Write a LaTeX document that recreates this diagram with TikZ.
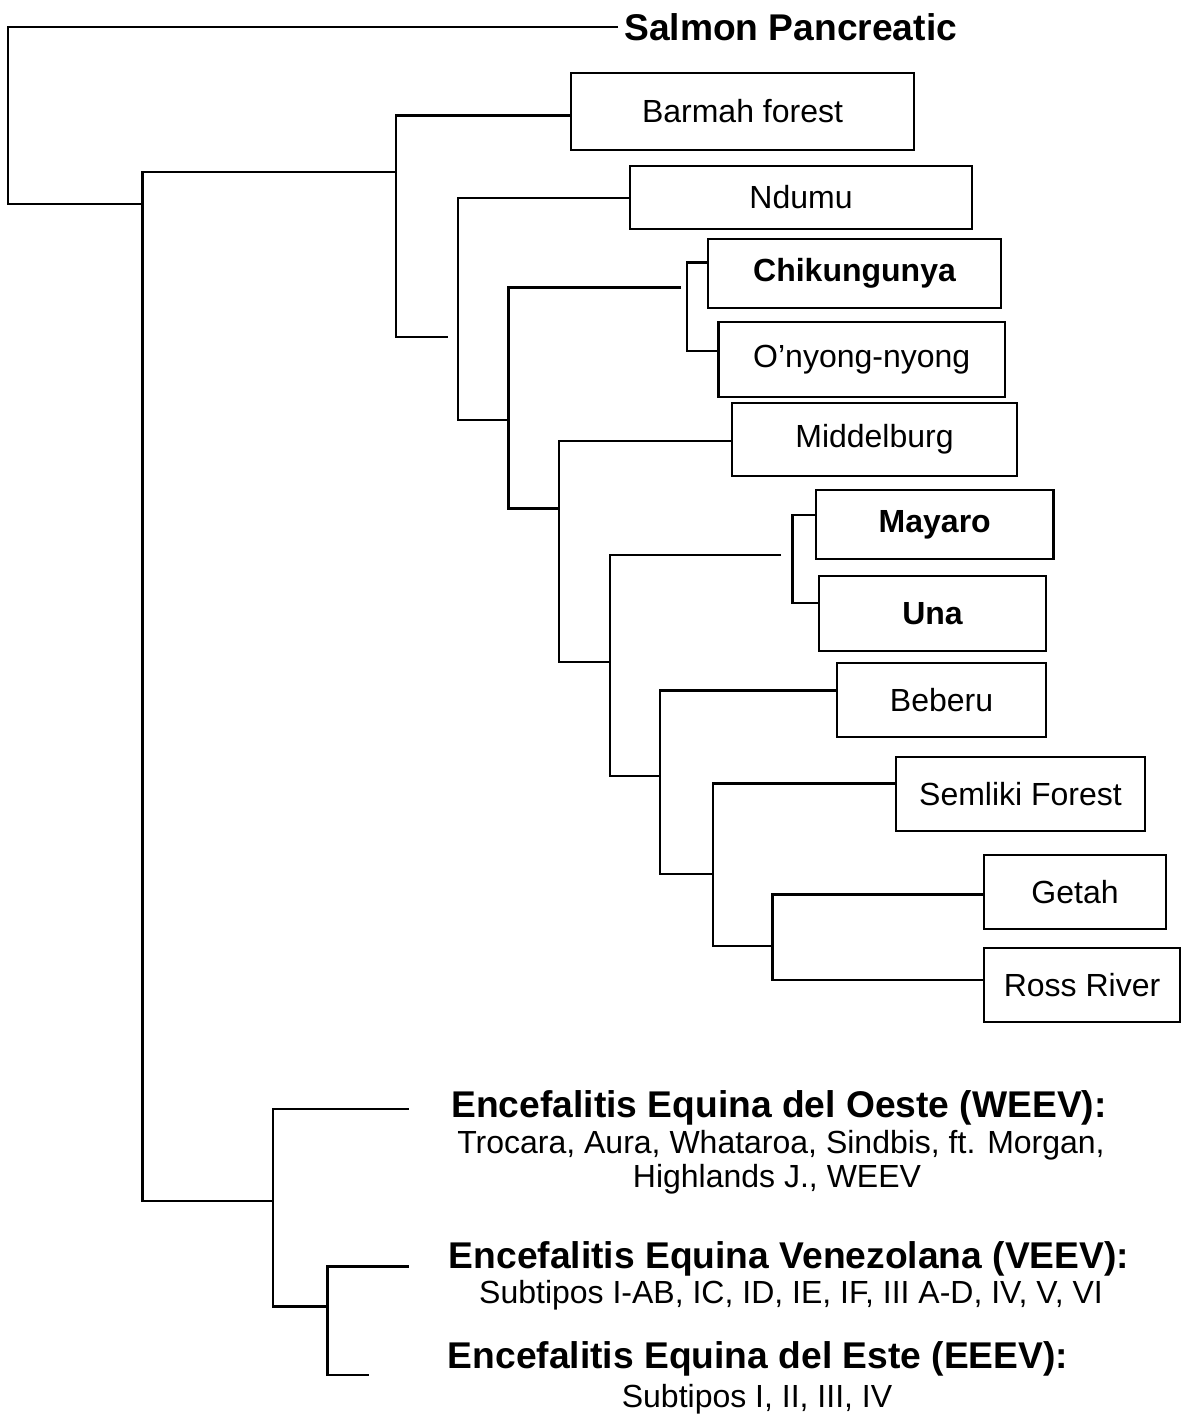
\documentclass[tikz,border=0pt]{standalone}
\usepackage{fontspec}
\setmainfont{Liberation Sans}
\def\lw{1.2pt}
\def\fs{\fontsize{16}{19}\selectfont}
\def\fb{\fontsize{18.6}{22}\selectfont\bfseries}
\begin{document}
\begin{tikzpicture}[x=0.5pt,y=-0.5pt,line width=\lw,
  leaf/.style={draw,inner sep=0pt,font=\fs},
  leafb/.style={leaf,font=\fs\bfseries},
  head/.style={anchor=base,inner sep=0pt,font=\fb},
  sub/.style={anchor=base,inner sep=0pt,font=\fs}]
\useasboundingbox (0,0) rectangle (1181,1422);

\node[anchor=west,inner sep=2.5pt,font=\fb] (title) at (618,27) {Salmon Pancreatic};

\node[leaf,minimum width=171.5pt,minimum height=38.5pt] (barmah) at (742.5,111.5) {Barmah forest};
\node[leaf,minimum width=171pt,minimum height=31.5pt] (ndumu) at (801,197.5) {Ndumu};
\node[leafb,minimum width=146.5pt,minimum height=34.5pt] (chik) at (854.5,273.5) {Chikungunya};
\node[leaf,minimum width=143.25pt,minimum height=37.5pt] (onyong) at (861.75,359.5) {O’nyong-nyong};
\node[leaf,minimum width=142.5pt,minimum height=36.5pt] (midd) at (874.5,439.5) {Middelburg};
\node[leafb,minimum width=118.75pt,minimum height=34.5pt] (mayaro) at (934.75,524.5) {Mayaro};
\node[leafb,minimum width=113.5pt,minimum height=37.5pt] (una) at (932.5,613.5) {Una};
\node[leaf,minimum width=104.5pt,minimum height=37pt] (beberu) at (941.5,700) {Beberu};
\node[leaf,minimum width=124.5pt,minimum height=37pt] (semliki) at (1020.5,794) {Semliki Forest};
\node[leaf,minimum width=91pt,minimum height=37pt] (getah) at (1075,892) {Getah};
\node[leaf,minimum width=98pt,minimum height=37pt] (ross) at (1082,985) {Ross River};

\node[head] (weev) at (779,1117) {Encefalitis Equina del Oeste (WEEV):};
\node[sub] (weev1) at (781,1153) {Trocara, Aura, Whataroa, Sindbis, ft. Morgan,};
\node[sub] (weev2) at (777,1187) {Highlands J., WEEV};
\node[head] (veev) at (789,1268) {Encefalitis Equina Venezolana (VEEV):};
\node[sub] (veev1) at (791,1303) {Subtipos I-AB, IC, ID, IE, IF, III A-D, IV, V, VI};
\node[head] (eeev) at (758,1368) {Encefalitis Equina del Este (EEEV):};
\node[sub] (eeev1) at (757,1407) {Subtipos I, II, III, IV};

\coordinate (R1) at (8,27);      \coordinate (R2) at (8,204);
\coordinate (A1) at (142.5,172); \coordinate (A2) at (142.5,1201);
\coordinate (B1) at (396,115.5); \coordinate (B2) at (396,337);   \coordinate (B3) at (448,337);
\coordinate (C1) at (458,198);   \coordinate (C2) at (458,420);
\coordinate (D1) at (508.5,287.5); \coordinate (D2) at (508.5,508.5); \coordinate (D3) at (681,287.5);
\coordinate (E1) at (687,262.5); \coordinate (E2) at (687,351);
\coordinate (F1) at (559,441);   \coordinate (F2) at (559,662);
\coordinate (G1) at (610,555);   \coordinate (G2) at (610,776);   \coordinate (G3) at (781,555);
\coordinate (H1) at (792.5,515); \coordinate (H2) at (792.5,603);
\coordinate (I1) at (660,690.5); \coordinate (I2) at (660,874);
\coordinate (J1) at (713,783.5); \coordinate (J2) at (713,946);
\coordinate (K1) at (772.5,894.5); \coordinate (K2) at (772.5,980);
\coordinate (L1) at (273,1109);  \coordinate (L2) at (273,1306.5); \coordinate (L3) at (408.5,1109);
\coordinate (M1) at (327.5,1266.5); \coordinate (M2) at (327.5,1375);
\coordinate (M3) at (408.5,1266.5); \coordinate (M4) at (369,1375);

\draw (title.west) -- (R1) -- (R2) -- (R2 -| A1);
\draw (A1 -| B1) -- (A1) -- (A2) -- (A2 -| L1);
\draw (barmah.west |- B1) -- (B1) -- (B2) -- (B3);
\draw (ndumu.west |- C1) -- (C1) -- (C2) -- (C2 -| D1);
\draw (D3) -- (D1) -- (D2) -- (D2 -| F1);
\draw (chik.west |- E1) -- (E1) -- (E2) -- (onyong.west |- E2);
\draw (midd.west |- F1) -- (F1) -- (F2) -- (F2 -| G1);
\draw (G3) -- (G1) -- (G2) -- (G2 -| I1);
\draw (mayaro.west |- H1) -- (H1) -- (H2) -- (una.west |- H2);
\draw (beberu.west |- I1) -- (I1) -- (I2) -- (I2 -| J1);
\draw (semliki.west |- J1) -- (J1) -- (J2) -- (J2 -| K1);
\draw (getah.west |- K1) -- (K1) -- (K2) -- (ross.west |- K2);
\draw (L3) -- (L1) -- (L2) -- (L2 -| M1);
\draw (M3) -- (M1) -- (M2) -- (M4);
\end{tikzpicture}
\end{document}
